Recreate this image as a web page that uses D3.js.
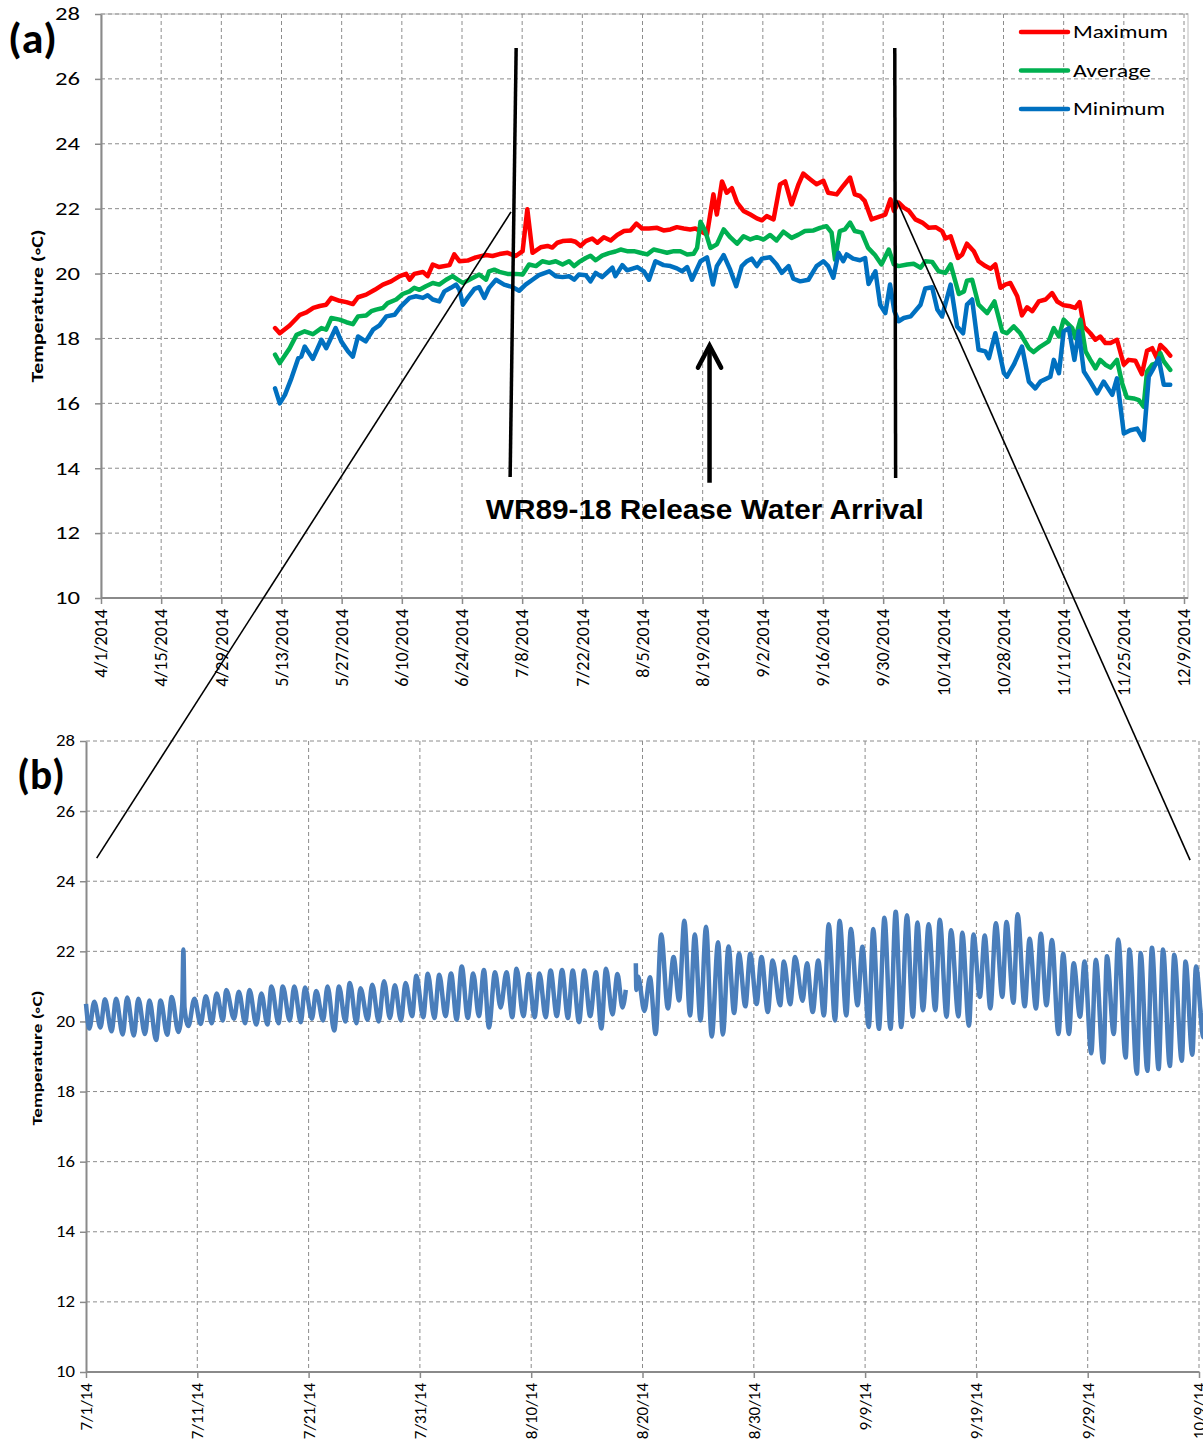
<!DOCTYPE html>
<html><head><meta charset="utf-8">
<script src="https://cdn.jsdelivr.net/npm/d3@7"></script>
<style>
html,body{margin:0;padding:0;background:#fff;}
svg{display:block;font-family:Calibri,Carlito,Lato,sans-serif;}
</style></head>
<body>
<svg id="chart" width="1203" height="1448"></svg>
<script>
// ---------- DATA ----------
// Panel (a): days since 4/1/2014 and daily temperatures (°C)
const maxDays = [40.5,41.6,43.9,46.3,47.8,49.4,50.9,52.4,53.6,55.5,57.1,58.6,59.8,61.7,63.7,65.6,67.5,69.5,71.0,71.8,72.9,74.9,76.0,77.2,78.7,81.1,82.2,83.4,85.3,87.2,89.6,91.1,92.7,94.6,96.5,98.1,99.2,100.4,102.3,103.9,105.0,106.2,107.4,109.3,110.4,111.6,112.8,114.3,115.5,117.0,118.6,120.1,121.7,123.2,124.6,125.9,127.5,129.4,130.9,132.5,134.0,135.6,137.1,138.3,141.0,142.5,143.3,144.5,145.6,146.8,148.0,149.5,151.1,152.6,153.8,154.9,156.5,158.0,159.2,160.7,162.3,163.4,165.0,166.5,168.1,169.2,171.2,172.7,174.3,175.4,176.6,177.7,179.3,180.8,182.5,183.7,184.5,185.6,186.8,188.0,189.5,191.1,192.6,194.2,195.7,196.5,197.7,199.4,200.4,201.5,203.1,204.2,205.8,207.0,208.1,209.3,210.4,211.6,213.2,214.3,215.5,216.7,218.2,219.8,221.3,222.5,224.0,225.6,226.7,227.7,228.7,230.2,231.4,232.5,233.7,234.9,236.4,238.0,239.1,240.7,242.2,243.4,244.6,245.7,246.5,247.7,248.8];
const maxTemps = [18.32,18.16,18.40,18.73,18.80,18.94,19.00,19.04,19.25,19.16,19.12,19.06,19.27,19.35,19.50,19.66,19.76,19.92,19.99,19.81,19.99,20.05,19.92,20.28,20.20,20.26,20.59,20.38,20.40,20.50,20.57,20.54,20.60,20.64,20.54,20.69,21.98,20.64,20.81,20.85,20.80,20.95,21.00,21.02,20.98,20.85,21.00,21.08,20.95,21.12,21.02,21.19,21.31,21.33,21.54,21.39,21.39,21.41,21.33,21.36,21.43,21.39,21.36,21.39,21.20,22.44,21.82,22.84,22.49,22.63,22.19,21.93,21.82,21.70,21.64,21.77,21.67,22.75,22.84,22.13,22.75,23.08,22.91,22.75,22.86,22.49,22.44,22.70,22.96,22.44,22.39,22.24,21.67,21.74,21.82,22.29,21.93,22.19,22.03,21.93,21.67,21.57,21.41,21.43,21.31,21.08,21.15,20.48,20.59,20.92,20.69,20.38,20.23,20.15,20.28,19.56,19.66,19.71,19.30,18.71,18.96,18.84,19.14,19.20,19.40,19.14,19.02,18.99,18.94,19.12,18.37,18.16,17.96,18.06,17.86,17.86,17.96,17.19,17.34,17.31,16.90,17.62,17.70,17.39,17.80,17.65,17.47];

const avgDays = [40.5,41.6,43.9,45.5,47.4,49.3,51.3,52.4,53.6,55.5,57.1,58.6,59.8,61.7,62.9,64.0,65.6,66.7,68.7,70.2,71.8,72.9,74.1,75.6,77.2,78.7,80.3,81.8,83.0,84.2,85.7,88.0,89.6,90.3,91.5,92.7,94.6,96.5,98.1,99.6,101.2,102.7,104.3,105.8,107.4,108.9,110.1,111.2,112.8,113.9,115.1,116.6,118.2,119.7,120.9,122.4,124.0,125.5,127.1,128.6,130.2,131.7,133.3,134.8,136.4,137.9,138.7,139.5,140.6,141.8,143.3,144.9,146.4,148.0,149.5,151.1,152.6,154.2,155.7,157.2,158.8,160.7,162.3,163.8,165.8,167.3,168.8,170.0,170.8,171.9,173.1,174.3,175.4,177.0,178.5,180.1,181.6,183.3,184.5,185.6,187.6,189.1,190.7,191.8,193.4,194.9,196.5,197.7,199.6,200.8,201.5,202.7,204.2,206.2,207.9,209.7,210.8,212.4,213.9,215.9,217.0,218.6,220.5,221.7,222.9,224.0,226.0,226.7,227.9,229.1,230.2,231.4,232.5,233.7,234.9,236.4,237.6,238.7,240.3,241.5,242.6,243.4,244.6,245.7,246.5,247.3,248.8];
const avgTemps = [17.50,17.24,17.70,18.11,18.22,18.13,18.32,18.27,18.63,18.58,18.50,18.44,18.68,18.71,18.84,18.89,18.94,19.09,19.20,19.37,19.45,19.56,19.50,19.61,19.71,19.66,19.81,19.92,19.81,19.71,19.81,19.97,19.81,20.07,20.12,20.05,19.99,19.99,19.97,20.28,20.23,20.38,20.33,20.38,20.28,20.38,20.23,20.35,20.48,20.55,20.41,20.55,20.63,20.68,20.74,20.69,20.69,20.64,20.59,20.74,20.69,20.64,20.69,20.69,20.59,20.61,20.79,21.60,21.31,20.79,20.90,21.36,21.12,20.92,21.15,21.05,21.12,21.05,21.19,21.02,21.29,21.10,21.20,21.31,21.33,21.41,21.46,21.26,20.43,21.31,21.36,21.57,21.31,21.26,20.79,20.57,20.28,20.74,20.28,20.23,20.28,20.30,20.18,20.38,20.36,20.07,20.02,20.28,19.37,19.45,19.78,19.81,19.04,18.78,19.14,18.22,18.16,18.37,18.16,17.70,17.58,17.75,17.91,18.32,18.06,18.58,18.32,18.01,18.58,17.60,17.34,17.08,17.34,17.19,17.10,17.34,16.62,16.18,16.15,16.10,15.90,16.98,17.19,17.24,17.55,17.29,17.03];

const minDays = [40.5,41.6,42.8,44.3,45.9,46.6,47.4,49.3,51.3,52.4,54.6,55.9,57.5,58.6,59.8,61.6,63.3,64.8,66.4,68.3,69.8,71.8,73.3,74.9,76.0,77.2,78.7,79.9,81.4,82.6,83.4,84.2,85.3,86.9,88.0,89.2,90.3,91.9,93.8,95.8,97.3,98.8,100.4,101.9,104.3,105.8,107.4,108.9,110.1,111.2,112.8,113.9,115.1,116.6,119.0,119.7,121.3,122.4,124.8,126.3,127.5,129.0,130.9,132.5,134.0,135.2,136.4,137.5,139.5,141.0,142.4,143.3,144.9,146.4,147.8,149.1,150.3,151.4,152.6,153.8,155.7,157.2,158.4,160.0,161.1,162.7,164.6,166.5,168.1,169.2,170.4,171.6,172.7,173.5,175.0,176.6,177.8,178.6,180.2,181.3,182.5,183.6,184.6,185.6,186.8,188.4,190.7,191.8,193.4,194.6,195.7,197.7,199.2,200.6,201.5,202.7,204.2,205.8,206.6,208.1,210.1,210.8,212.4,214.3,215.9,217.4,218.6,220.9,221.7,222.9,224.0,225.2,226.5,227.5,228.7,230.2,231.8,233.3,235.3,236.4,238.0,239.5,241.1,242.6,243.8,244.9,246.1,247.3,248.8];
const minTemps = [16.46,16.00,16.26,16.77,17.39,17.44,17.75,17.37,17.96,17.70,18.32,17.91,17.60,17.44,18.06,17.91,18.27,18.40,18.68,18.73,18.99,19.25,19.30,19.25,19.33,19.20,19.14,19.45,19.56,19.66,19.50,19.04,19.25,19.53,19.58,19.25,19.56,19.81,19.66,19.58,19.47,19.66,19.81,19.95,20.07,19.92,19.89,19.92,19.81,19.97,19.95,19.76,20.02,19.89,20.18,19.92,20.26,20.10,20.20,20.07,19.81,20.38,20.26,20.23,20.16,20.07,20.20,19.81,20.38,20.50,19.66,20.23,20.57,20.12,19.61,20.23,20.38,20.46,20.23,20.46,20.50,20.28,20.02,20.23,19.84,19.76,19.81,20.23,20.38,20.23,19.87,20.64,20.38,20.59,20.46,20.41,20.48,19.68,20.07,19.04,18.78,19.66,18.84,18.53,18.63,18.68,19.04,19.54,19.58,18.89,18.68,19.66,18.37,18.16,19.04,19.20,17.65,17.60,17.39,18.16,16.93,16.82,17.19,17.75,16.67,16.46,16.67,16.82,17.34,16.93,18.22,18.32,17.34,18.22,16.98,16.67,16.31,16.67,16.26,16.77,15.07,15.17,15.22,14.87,16.82,17.08,17.39,16.57,16.57];

// Panel (b): days since 7/1/2014 (null = logger gap) and temperatures (°C)
const logDays = [0.0,0.3,0.74,1.3,1.7,2.3,2.7,3.3,3.7,4.3,4.7,5.3,5.7,6.3,6.7,7.3,7.7,8.3,8.65,8.75,8.85,9.2,9.74,10.3,10.77,11.3,11.74,12.3,12.6,13.3,13.73,14.3,14.69,15.3,15.76,16.3,16.66,17.3,17.68,18.3,18.71,19.3,19.68,20.3,20.68,21.3,21.7,22.3,22.73,23.3,23.7,24.3,24.66,25.3,25.72,26.3,26.78,27.3,27.75,28.3,28.71,29.3,29.68,30.3,30.71,31.3,31.74,32.3,32.8,33.3,33.76,34.3,34.79,35.3,35.75,36.2,36.75,37.25,37.78,38.3,38.68,39.3,39.77,40.3,40.74,41.3,41.74,42.3,42.77,43.3,43.73,44.3,44.76,45.3,45.82,46.3,46.72,47.3,47.75,48.2,48.5,
  null,
  49.4,49.45,49.6,50.17,50.67,51.18,51.68,52.28,52.79,53.29,53.76,54.27,54.7,55.21,55.71,56.22,56.79,57.22,57.73,58.23,58.67,59.24,59.68,60.25,60.69,61.26,61.69,62.37,62.7,63.27,63.71,64.38,64.78,65.29,65.79,66.3,66.73,67.3,67.71,68.31,68.72,69.32,69.76,70.33,70.73,71.24,71.74,72.28,72.75,73.25,73.76,74.29,74.7,75.2,75.71,76.31,76.71,77.32,77.72,78.39,78.73,79.33,79.74,80.31,80.75,81.25,81.75,82.33,82.7,83.33,83.7,84.34,84.78,85.35,85.79,86.29,86.79,87.37,87.8,88.31,88.74,89.31,89.72,90.32,90.73,91.4,91.73,92.34,92.74,93.41,93.75,94.42,94.76,95.36,95.77,96.37,96.77,97.38,97.78,98.45,98.79,99.4,99.73,100.4,100.67];
const logTemps = [20.50,19.80,20.56,19.83,20.63,19.72,20.65,19.63,20.68,19.60,20.65,19.64,20.60,19.47,20.60,19.62,20.70,19.70,20.50,22.05,20.40,19.87,20.65,19.93,20.72,19.95,20.80,20.03,20.90,20.08,20.85,19.95,20.90,19.91,20.80,19.91,21.00,19.95,21.00,20.03,21.00,19.98,20.97,20.08,20.87,20.03,21.00,19.74,21.00,20.00,21.10,19.95,20.95,20.05,21.05,20.00,21.15,20.10,21.03,20.03,21.10,20.15,21.30,20.12,21.36,20.10,21.33,20.15,21.37,20.05,21.57,20.10,21.37,20.15,21.47,19.83,21.40,20.40,21.40,20.12,21.50,20.15,21.35,20.12,21.37,20.12,21.45,20.15,21.47,20.10,21.45,19.98,21.45,20.15,21.40,19.80,21.50,20.20,21.35,20.40,20.90,
  null,
  21.66,20.90,21.28,20.30,21.26,19.64,22.48,20.37,21.84,20.60,22.87,20.17,22.48,20.03,22.70,19.57,22.26,19.63,22.14,20.24,21.93,20.43,21.93,20.50,21.84,20.27,21.74,20.46,21.71,20.49,21.84,20.59,21.66,20.27,21.74,20.17,22.77,20.03,22.87,20.17,22.64,20.46,22.13,19.84,22.64,19.79,22.96,19.79,23.13,19.84,23.03,20.13,22.82,20.32,22.77,20.32,22.90,20.13,22.60,20.14,22.53,19.88,22.48,20.70,22.45,20.37,22.80,20.70,22.84,20.53,23.06,20.43,22.36,20.37,22.50,20.46,22.32,19.64,21.93,19.64,21.66,20.13,21.71,19.09,21.76,18.83,21.86,19.64,22.34,18.97,22.05,18.51,21.95,18.59,22.10,18.64,22.05,18.73,21.90,18.88,21.71,19.05,21.57,19.55,21.59];

// Tick labels
const ticksA = ["4/1/2014","4/15/2014","4/29/2014","5/13/2014","5/27/2014","6/10/2014","6/24/2014","7/8/2014","7/22/2014","8/5/2014","8/19/2014","9/2/2014","9/16/2014","9/30/2014","10/14/2014","10/28/2014","11/11/2014","11/25/2014","12/9/2014"];
const ticksB = ["7/1/14","7/11/14","7/21/14","7/31/14","8/10/14","8/20/14","8/30/14","9/9/14","9/19/14","9/29/14","10/9/14"];
const yTicks = [10,12,14,16,18,20,22,24,26,28];
const seriesNames = ["Maximum","Average","Minimum"];
const seriesColors = ["#FF0000","#00B050","#0070C0"];
const annoText = "WR89-18 Release Water Arrival";

// ---------- DRAWING ----------
const svg = d3.select("#chart");
const DAY = 864e5;
const baseA = Date.UTC(2014,3,1), baseB = Date.UTC(2014,6,1);
const dA = d => new Date(baseA + d*DAY);
const dB = d => new Date(baseB + d*DAY);
const pA = d3.utcParse("%m/%d/%Y");
const pB = d3.utcParse("%m/%d/%y");
const gridCol = "#8c8c8c", axisCol = "#8a8a8a";

function panel(cfg){
  const {x, y, tickDates, tickLabels, yLabelX, yFont, yLen, xFont, border} = cfg;
  const g = svg.append("g");
  const [x0,x1] = x.range(), [yb,yt] = y.range();
  if(border){
    g.append("rect").attr("x",x0).attr("y",yt).attr("width",border-x0).attr("height",yb-yt)
      .attr("fill","none").attr("stroke","#d4d4d4").attr("stroke-width",1.5);
  }
  g.selectAll(".hg").data(yTicks.filter(v=>v>10)).join("line")
    .attr("x1",x0).attr("x2",border||x1).attr("y1",d=>y(d)).attr("y2",d=>y(d))
    .attr("stroke",gridCol).attr("stroke-width",1).attr("stroke-dasharray","4,3");
  g.selectAll(".vg").data(tickDates.slice(1)).join("line")
    .attr("x1",d=>x(d)).attr("x2",d=>x(d)).attr("y1",yt).attr("y2",yb)
    .attr("stroke",gridCol).attr("stroke-width",1).attr("stroke-dasharray","4,3");
  const ax = d3.axisBottom(x).tickValues(tickDates).tickFormat(()=>"").tickSize(6).tickSizeOuter(0);
  const xg = g.append("g").attr("transform",`translate(0,${yb})`).call(ax);
  xg.select(".domain").attr("stroke",axisCol).attr("stroke-width",2).attr("d",`M${x0},0H${border||x1}`);
  xg.selectAll(".tick line").attr("stroke",axisCol).attr("stroke-width",1.5);
  const ay = d3.axisLeft(y).tickValues(yTicks).tickFormat(()=>"").tickSize(6).tickSizeOuter(0);
  const yg = g.append("g").attr("transform",`translate(${x0},0)`).call(ay);
  yg.select(".domain").attr("stroke",axisCol).attr("stroke-width",2);
  yg.selectAll(".tick line").attr("stroke",axisCol).attr("stroke-width",1.5);
  g.selectAll(".yl").data(yTicks).join("text")
    .attr("x",yLabelX).attr("y",d=>y(d)).attr("dy","0.35em").attr("text-anchor","end")
    .attr("font-size",yFont).attr("fill","#000")
    .attr("textLength",d=>String(d).length*yLen).attr("lengthAdjust","spacingAndGlyphs").text(d=>d);
  g.selectAll(".xl").data(tickDates).join("text")
    .attr("transform",(d,i)=>`translate(${x(d)},${yb+11}) rotate(-90)`)
    .attr("dy","0.35em").attr("text-anchor","end").attr("font-size",xFont).attr("fill","#000")
    .text((d,i)=>tickLabels[i]);
  return g;
}

// Panel (a)
const xA = d3.scaleUtc().domain([pA("4/1/2014"), pA("12/9/2014")]).range([101,1184]);
const yA = d3.scaleLinear().domain([10,28]).range([598,14]);
panel({x:xA, y:yA, tickDates:ticksA.map(pA), tickLabels:ticksA, yLabelX:80, yFont:18, yLen:12.5, xFont:18, border:1188});

const lineA = d3.line().x(d=>xA(d[0])).y(d=>yA(d[1]));
const seriesA = [
  maxDays.map((d,i)=>[dA(d),maxTemps[i]]),
  avgDays.map((d,i)=>[dA(d),avgTemps[i]]),
  minDays.map((d,i)=>[dA(d),minTemps[i]])
];
seriesA.forEach((s,i)=>{
  svg.append("path").datum(s).attr("d",lineA).attr("fill","none")
    .attr("stroke",seriesColors[i]).attr("stroke-width",4.5)
    .attr("stroke-linejoin","round").attr("stroke-linecap","round");
});

// legend
const legendLens = [95,78,92];
const lg = svg.append("g");
seriesNames.forEach((n,i)=>{
  const yy = 32 + i*38.5;
  lg.append("line").attr("x1",1021).attr("x2",1068).attr("y1",yy).attr("y2",yy)
    .attr("stroke",seriesColors[i]).attr("stroke-width",4.5).attr("stroke-linecap","round");
  lg.append("text").attr("x",1073).attr("y",yy).attr("dy","0.35em").attr("font-size",18)
    .attr("textLength",legendLens[i]).attr("lengthAdjust","spacingAndGlyphs")
    .attr("fill","#000").text(n);
});

svg.append("text").attr("x",8).attr("y",53).attr("font-size",42).attr("font-weight","bold")
  .attr("textLength",49).attr("lengthAdjust","spacingAndGlyphs").text("(a)");
svg.append("text").attr("transform","translate(43,306) rotate(-90)").attr("text-anchor","middle")
  .attr("font-size",16).attr("font-weight","bold")
  .attr("textLength",153).attr("lengthAdjust","spacingAndGlyphs").text("Temperature (\u25E6C)");

// Panel (b)
const xB = d3.scaleUtc().domain([pB("7/1/14"), pB("10/9/14")]).range([86,1199]);
const yB = d3.scaleLinear().domain([10,28]).range([1372,741]);
panel({x:xB, y:yB, tickDates:ticksB.map(pB), tickLabels:ticksB, yLabelX:75, yFont:15.5, yLen:9.5, xFont:17, border:0});

const lineB = d3.line().defined(d=>d[0]!==null).x(d=>xB(dB(d[0]))).y(d=>yB(d[1])).curve(d3.curveMonotoneX);
svg.append("path").datum(logDays.map((d,i)=>[d,logTemps[i]])).attr("d",lineB).attr("fill","none")
  .attr("stroke","#4A7EBB").attr("stroke-width",4.5).attr("stroke-linejoin","round");

svg.append("text").attr("x",17).attr("y",789).attr("font-size",42).attr("font-weight","bold")
  .attr("textLength",48).attr("lengthAdjust","spacingAndGlyphs").text("(b)");
svg.append("text").attr("transform","translate(42,1058) rotate(-90)").attr("text-anchor","middle")
  .attr("font-size",14).attr("font-weight","bold")
  .attr("textLength",135).attr("lengthAdjust","spacingAndGlyphs").text("Temperature (\u25E6C)");

// Annotations
const ann = svg.append("g").attr("stroke","#000").attr("fill","none");
ann.append("line").attr("x1",xA(dA(96.6))).attr("y1",yA(26.95)).attr("x2",xA(dA(95.2))).attr("y2",yA(13.73)).attr("stroke-width",3.5);
ann.append("line").attr("x1",xA(dA(184.7))).attr("y1",yA(26.95)).attr("x2",xA(dA(184.9))).attr("y2",yA(13.7)).attr("stroke-width",3.5);
ann.append("line").attr("x1",xA(dA(141.6))).attr("y1",yA(13.55)).attr("x2",xA(dA(141.6))).attr("y2",yA(17.75)).attr("stroke-width",4.5);
ann.append("path").attr("d",`M${xA(dA(138.9))},${yA(17.1)}L${xA(dA(141.6))},${yA(17.78)}L${xA(dA(144.3))},${yA(17.1)}`)
  .attr("stroke-width",4.5).attr("stroke-linecap","round").attr("stroke-linejoin","miter");
ann.append("line").attr("x1",xA(dA(95.4))).attr("y1",yA(21.9)).attr("x2",xB(dB(0.96))).attr("y2",yB(24.66)).attr("stroke-width",1.6);
ann.append("line").attr("x1",xA(dA(185.1))).attr("y1",yA(22.27)).attr("x2",xB(dB(99.2))).attr("y2",yB(24.6)).attr("stroke-width",1.6);

const annX = (xA(dA(140.5)));
svg.append("text").attr("x",annX - 219).attr("y",yA(12.43))
  .attr("font-family","'Liberation Sans',Arial,sans-serif").attr("font-weight","bold").attr("font-size",28)
  .attr("textLength",438).attr("lengthAdjust","spacingAndGlyphs")
  .text(annoText);
</script>
</body></html>
